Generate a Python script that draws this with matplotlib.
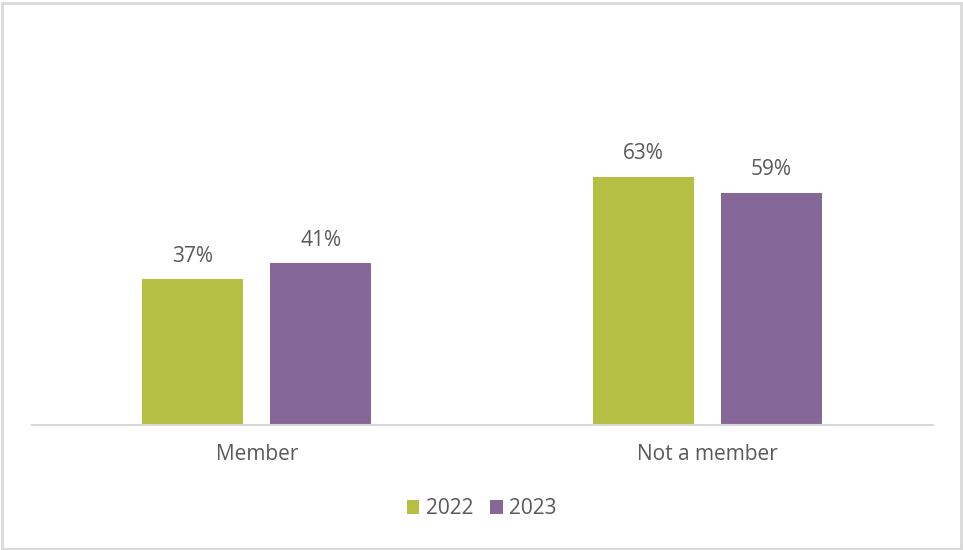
import matplotlib
matplotlib.use("Agg")
import matplotlib.pyplot as plt
from matplotlib.patches import Rectangle
import numpy as np

categories = ["Member", "Not a member"]
series_names = ["2022", "2023"]
values_2022 = [37, 63]
values_2023 = [41, 59]

COL_2022 = "#B5BF43"
COL_2023 = "#866898"
TEXT = "#595959"
LINE = "#D9D9D9"

plt.rcParams["font.family"] = ["Open Sans", "DejaVu Sans"]

fig = plt.figure(figsize=(9.63, 5.5), dpi=100)
ax = fig.add_axes([31.5 / 963, 1 - 425 / 550, 901 / 963, 394 / 550])

x = np.arange(len(categories))
w = 0.224
off = 0.142
b1 = ax.bar(x - off, values_2022, w, color=COL_2022, label=series_names[0])
b2 = ax.bar(x + off, values_2023, w, color=COL_2023, label=series_names[1])

for bars in (b1, b2):
    for r in bars:
        ax.annotate(f"{r.get_height():.0f}%",
                    (r.get_x() + r.get_width() / 2, r.get_height()),
                    xytext=(0, 9), textcoords="offset points",
                    ha="center", va="bottom", fontsize=15, color=TEXT)

ax.set_xlim(-0.5, 1.5)
ax.set_ylim(0, 100)
ax.set_yticks([])
ax.set_xticks(x)
ax.set_xticklabels(categories, fontsize=15, color=TEXT)
ax.tick_params(axis="x", length=0, pad=14)
for s in ("top", "right", "left"):
    ax.spines[s].set_visible(False)
ax.spines["bottom"].set_color(LINE)
ax.spines["bottom"].set_linewidth(1.5)

fig.legend(loc="center", bbox_to_anchor=(0.5, 1 - 509 / 550), ncol=2,
           frameon=False, fontsize=15, labelcolor=TEXT,
           handlelength=0.62, handleheight=0.62, handletextpad=0.3,
           columnspacing=0.8)

fig.patches.append(Rectangle((1.5 / 963, 1.5 / 550), 959 / 963, 546 / 550,
                             transform=fig.transFigure, fill=False,
                             edgecolor=LINE, linewidth=2))

fig.savefig("out.png", dpi=100)
